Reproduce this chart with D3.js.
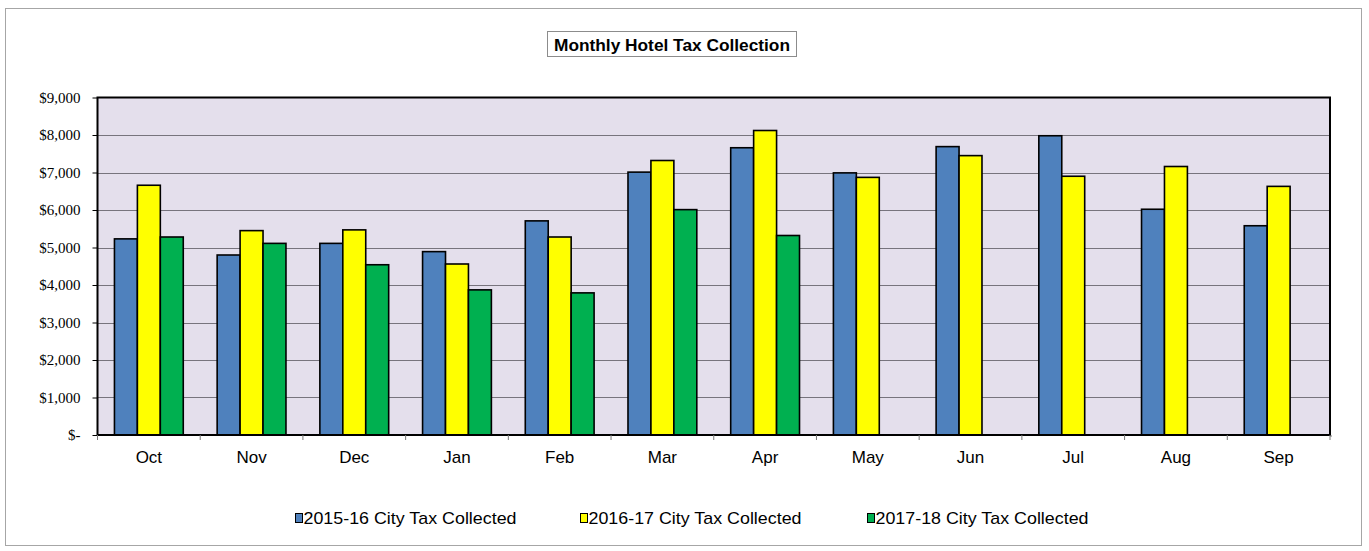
<!DOCTYPE html>
<html>
<head>
<meta charset="utf-8">
<script src="https://cdn.jsdelivr.net/npm/d3@7"></script>
<style>
  body { margin: 0; background: #fff; }
  svg { display: block; }
  .yax text { font-family: "Liberation Serif", "DejaVu Serif", serif; }
</style>
</head>
<body>
<svg id="chart" width="1369" height="551"></svg>
<script>
// chart data
const months = ['Oct', 'Nov', 'Dec', 'Jan', 'Feb', 'Mar', 'Apr', 'May', 'Jun', 'Jul', 'Aug', 'Sep'];
const seriesNames = ['2015-16 City Tax Collected', '2016-17 City Tax Collected', '2017-18 City Tax Collected'];
const fy1516 = [5230, 4800, 5110, 4890, 5710, 7010, 7660, 6990, 7690, 7980, 6020, 5580];
const fy1617 = [6660, 5450, 5470, 4560, 5280, 7320, 8120, 6870, 7450, 6900, 7160, 6630];
const fy1718 = [5280, 5110, 4540, 3870, 3790, 6010, 5320, null, null, null, null, null];
const yTicks = [0, 1000, 2000, 3000, 4000, 5000, 6000, 7000, 8000, 9000];
const colors = ['#4f81bd', '#ffff00', '#00b050'];

const W = 1369, H = 551;
const margin = { top: 97.5, right: 39, bottom: 116, left: 97.5 };
const svg = d3.select('#chart');

// outer frame
svg.append('rect')
  .attr('x', 5.5).attr('y', 8.5)
  .attr('width', 1356).attr('height', 537)
  .attr('fill', '#fff').attr('stroke', '#a6a6a6');

const x0 = d3.scaleBand()
  .domain(months)
  .range([margin.left, W - margin.right]);

const x1 = d3.scaleBand()
  .domain(d3.range(3))
  .range([0, x0.bandwidth() * 0.67]);

const y = d3.scaleLinear()
  .domain([0, 9000])
  .range([H - margin.bottom, margin.top]);

// plot area background
svg.append('rect')
  .attr('x', margin.left).attr('y', margin.top)
  .attr('width', W - margin.right - margin.left)
  .attr('height', y(0) - margin.top)
  .attr('fill', '#e4dfec');

// gridlines
svg.append('g')
  .selectAll('line')
  .data(yTicks.slice(1, -1))
  .join('line')
    .attr('x1', margin.left).attr('x2', W - margin.right)
    .attr('y1', d => Math.round(y(d)) + 0.5).attr('y2', d => Math.round(y(d)) + 0.5)
    .attr('stroke', '#77747d').attr('stroke-width', 1);

// bars
const table = months.map((m, i) => ({ month: m, values: [fy1516[i], fy1617[i], fy1718[i]] }));
const offset = (x0.bandwidth() - x1.range()[1]) / 2;

svg.append('g')
  .selectAll('g')
  .data(table)
  .join('g')
    .attr('transform', d => `translate(${x0(d.month) + offset},0)`)
  .selectAll('rect')
  .data(d => d.values.map((v, k) => ({ k, v })).filter(e => e.v != null))
  .join('rect')
    .attr('x', d => x1(d.k))
    .attr('y', d => y(d.v))
    .attr('width', x1.bandwidth())
    .attr('height', d => y(0) - y(d.v))
    .attr('fill', d => colors[d.k])
    .attr('stroke', '#000')
    .attr('stroke-width', 1.6);

// plot border
svg.append('rect')
  .attr('x', margin.left).attr('y', margin.top)
  .attr('width', W - margin.right - margin.left)
  .attr('height', y(0) - margin.top)
  .attr('fill', 'none')
  .attr('stroke', '#000').attr('stroke-width', 2);

// y axis
svg.append('g')
  .attr('class', 'yax')
  .attr('transform', `translate(${margin.left},0)`)
  .call(d3.axisLeft(y).tickValues(yTicks).tickSize(5).tickPadding(4)
    .tickFormat(d => d === 0 ? '$-' : '$' + d3.format(',')(d)))
  .call(g => g.select('.domain').remove())
  .call(g => g.selectAll('.tick line').attr('stroke', '#000'))
  .call(g => g.selectAll('text')
    .attr('font-size', 15).attr('fill', '#000').attr('dx', -8));

// x axis: tick marks at category boundaries
const xAxis = svg.append('g').attr('transform', `translate(0,${y(0)})`);
xAxis.selectAll('line')
  .data(months.map(m => x0(m)).concat([W - margin.right]))
  .join('line')
    .attr('x1', d => d).attr('x2', d => d)
    .attr('y1', 0).attr('y2', 5)
    .attr('stroke', '#777');
xAxis.append('line')
  .attr('x1', W - margin.right).attr('x2', W - margin.right + 2)
  .attr('y1', 1).attr('y2', 1)
  .attr('stroke', '#777');
xAxis.selectAll('text')
  .data(months)
  .join('text')
    .attr('x', d => x0(d) + x0.bandwidth() / 2)
    .attr('y', 28)
    .attr('text-anchor', 'middle')
    .attr('font-family', '"Liberation Sans", Arial, sans-serif')
    .attr('font-size', 17)
    .text(d => d);

// title
const title = svg.append('g');
title.append('rect')
  .attr('x', 547.5).attr('y', 31.5).attr('width', 249).attr('height', 25)
  .attr('fill', '#fff').attr('stroke', '#8c8c8c');
title.append('text')
  .attr('x', 672).attr('y', 50.5)
  .attr('text-anchor', 'middle')
  .attr('font-family', '"Liberation Sans", Arial, sans-serif')
  .attr('font-size', 17).attr('font-weight', 'bold')
  .attr('textLength', 236)
  .attr('lengthAdjust', 'spacingAndGlyphs')
  .text('Monthly Hotel Tax Collection');

// legend
const legendX = [295, 580, 867];
const legend = svg.append('g')
  .selectAll('g')
  .data(seriesNames)
  .join('g')
    .attr('transform', (d, i) => `translate(${legendX[i]},518)`);
legend.append('rect')
  .attr('x', 0.5).attr('y', -4.5).attr('width', 7).attr('height', 9)
  .attr('fill', (d, i) => colors[i])
  .attr('stroke', '#000').attr('stroke-width', 1);
legend.append('text')
  .attr('x', 8.5).attr('y', 6)
  .attr('font-family', '"Liberation Sans", Arial, sans-serif')
  .attr('font-size', 17)
  .attr('textLength', 213)
  .attr('lengthAdjust', 'spacingAndGlyphs')
  .text(d => d);
</script>
</body>
</html>
